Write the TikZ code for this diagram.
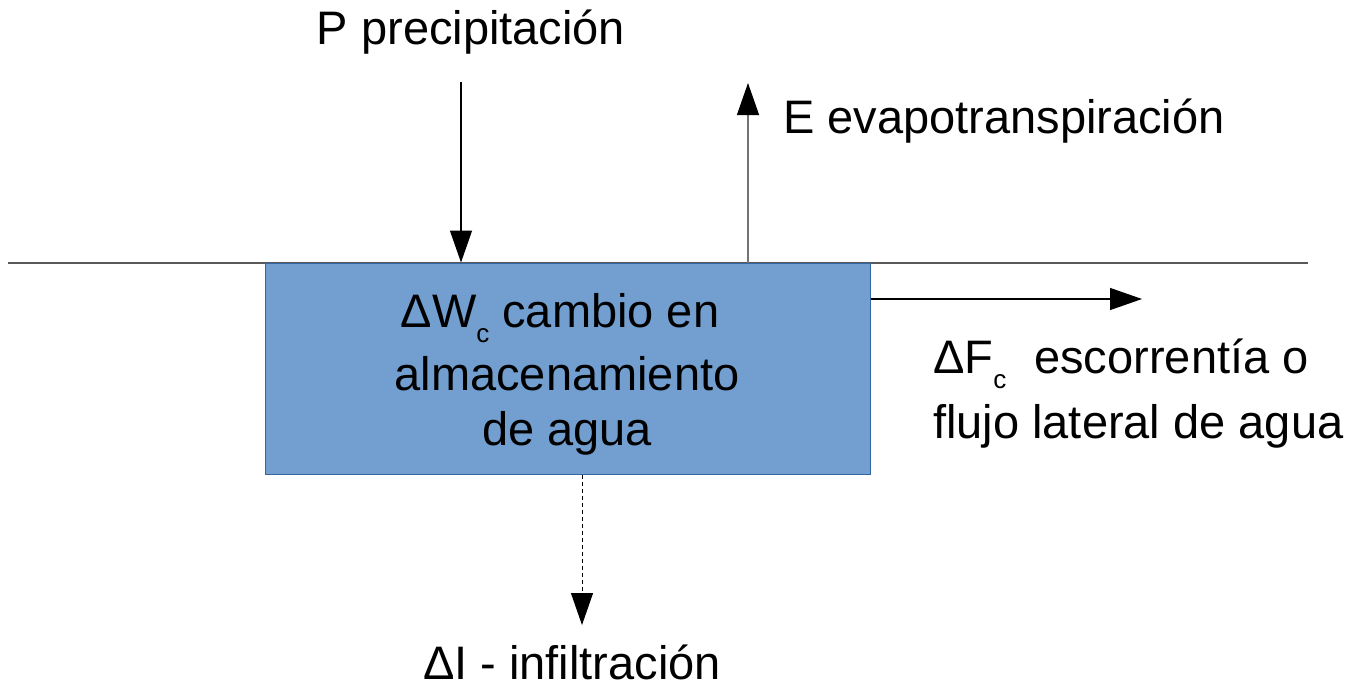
\documentclass[tikz,border=0pt]{standalone}
\usepackage{fontspec}
\setmainfont{Liberation Sans}
\usetikzlibrary{arrows.meta}
\definecolor{boxfill}{HTML}{729FCF}
\definecolor{boxline}{HTML}{3465A4}
\newcommand\subc{\raisebox{-15pt}{\fontsize{26}{26}\selectfont c}}
\tikzset{
  lbl/.style={inner sep=0pt, font=\fontsize{47}{55}\selectfont},
  arr/.style={line width=1.3pt, -{Triangle[length=32pt,width=22pt,color=black]}},
  ground/.style={line width=1.3pt, draw=black!65},
}
\begin{document}
\begin{tikzpicture}[x=1pt,y=-1pt]
\useasboundingbox (0,0) rectangle (1356,685);
\coordinate (gl) at (8,263);
\coordinate (gr) at (1308,263);
\coordinate (ptop) at (461,82);
\coordinate (etop) at (748,83);
\coordinate (fend) at (1142,299);
\coordinate (iend) at (582,625);
\draw[ground] (gl) -- (gr);
\node (box) [draw=boxline, fill=boxfill, line width=1pt, minimum width=605pt, minimum height=211pt, inner sep=0pt] at (567.5,368.5) {};
\node[lbl, anchor=base] (w1) at (560,327) {ΔW\subc{} cambio en};
\node[lbl, anchor=base] (w2) at (567,390) {almacenamiento};
\node[lbl, anchor=base] (w3) at (567,445) {de agua};
\draw[arr] (ptop) -- (box.north -| ptop);
\draw[arr, draw=black!55] (box.north -| etop) -- (etop);
\draw[arr] (box.east |- fend) -- (fend);
\draw[line width=1pt, dash pattern=on 4pt off 3pt] (box.south -| iend) -- ([yshift=30pt]iend);
\draw[line width=1pt, -{Triangle[length=32pt,width=22pt]}] ([yshift=32pt]iend) -- (iend);
\node[lbl, anchor=base] (p) at (471,45) {P precipitación};
\node[lbl, anchor=base west] (e) at (783,133) {E evapotranspiración};
\node[lbl, anchor=base west] (f1) at (933,373) {ΔF\subc\hspace{28pt}escorrentía o};
\node[lbl, anchor=base west] (f2) at (933,438) {flujo lateral de agua};
\node[lbl, anchor=base] (i) at (572,679) {ΔI - infiltración};
\end{tikzpicture}
\end{document}
